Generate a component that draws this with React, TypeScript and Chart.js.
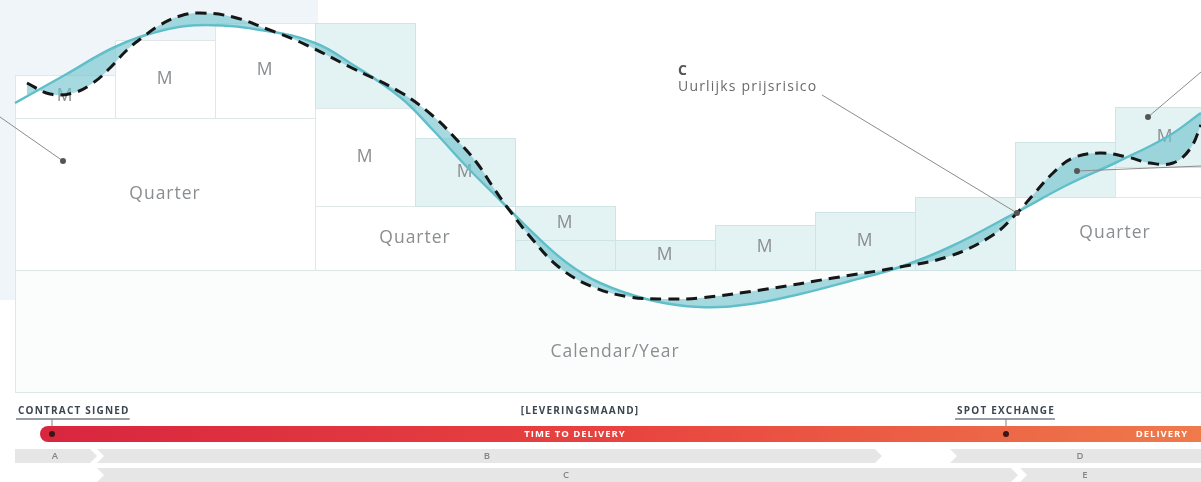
import React, { useEffect, useRef } from 'react';
import { Chart, registerables } from 'chart.js';
Chart.register(...registerables);

const FONT = '"Open Sans", "Noto Sans", sans-serif';

// Forward (baseload) curve: month index vs price
const forwardMonths = [0, 0.5, 1.0, 1.45, 1.92, 2.52, 3.0, 3.35, 3.85, 4.18, 4.52, 4.85, 5.18, 5.52, 5.85, 6.35, 6.85, 7.35, 7.85, 8.35, 8.85, 9.35, 10.02, 10.52, 11.02, 11.52, 11.86];
const forwardPrice = [72.25, 79.25, 86.25, 90.25, 91.75, 90.25, 87.25, 82.25, 73.75, 65.5, 56.25, 48, 39.75, 32.25, 27.25, 23, 21.25, 22, 24.5, 27.75, 31.25, 36.25, 45, 51.75, 57.5, 63.75, 69.75];

// Hourly spot price curve
const spotMonths = [0.12, 0.35, 0.58, 0.78, 0.95, 1.12, 1.28, 1.45, 1.65, 1.85, 2.18, 2.52, 2.85, 3.35, 3.85, 4.18, 4.42, 4.62, 4.78, 4.92, 5.18, 5.45, 5.78, 6.15, 6.52, 6.85, 7.52, 8.18, 8.85, 9.35, 9.78, 10.02, 10.18, 10.38, 10.58, 10.85, 11.12, 11.35, 11.58, 11.75, 11.86];
const spotPrice = [77.25, 74.5, 74.75, 77.25, 81, 85.5, 88.75, 91.75, 94, 94.75, 93.75, 90.75, 87.5, 81.25, 75, 69, 63, 57.25, 51.25, 46.25, 38, 31, 26.25, 23.75, 23.25, 23.5, 25.75, 28.5, 31.25, 34, 39.25, 44.75, 49.25, 54.75, 58.5, 59.75, 58.75, 57.25, 57.25, 60.75, 66.75];

// Product blocks (year / quarter / month)
const blockStart = [0, 0, 3, 10, 0, 1, 2, 3, 3, 4, 5, 5, 6, 7, 8, 9, 10, 11, 11];
const blockEnd = [12, 3, 5, 12, 1, 2, 3, 4, 4, 5, 6, 6, 7, 8, 9, 10, 11, 12, 12];
const blockLow = [0, 30.5, 30.5, 30.5, 68.5, 68.5, 68.5, 71, 46.5, 46.5, 38, 30.5, 30.5, 30.5, 30.5, 30.5, 48.75, 48.75, 56.25];
const blockHigh = [30.5, 68.5, 46.5, 48.75, 79.25, 88, 92.25, 92.25, 71, 63.5, 46.5, 38, 38, 41.75, 45, 48.75, 62.5, 56.25, 71.25];
const blockKind = ['year', 'plain', 'plain', 'plain', 'plain', 'plain', 'plain', 'tint', 'plain', 'tint', 'tint', 'tint', 'tint', 'tint', 'tint', 'tint', 'tint', 'plain', 'tint'];
const blockLabel = ['Calendar/Year', 'Quarter', 'Quarter', 'Quarter', 'M', 'M', 'M', '', 'M', 'M', 'M', '', 'M', 'M', 'M', '', '', '', 'M'];

// Background panel (upper left)
const panelStart = -0.15;
const panelEnd = 3.03;
const panelLow = 23;

// Callouts
const calloutTitle = 'C';
const calloutText = 'Uurlijks prijsrisico';
const calloutAt = [6.63, 81.25];
const leaderFrom = [[-0.15, 68.75], [8.07, 74.25], [11.86, 80], [11.86, 56.5]];
const leaderTo = [[0.48, 57.75], [10.02, 44.75], [11.33, 68.75], [10.62, 55.25]];

// Timeline
const barStart = 0.25;
const contractSignedAt = 0.37;
const spotExchangeAt = 9.91;
const deliveryMonthAt = 5.65;
const timeToDeliveryAt = 5.6;
const deliveryAt = 11.47;
const phaseLabels = ['A', 'B', 'D', 'C', 'E'];
const phaseRow = [0, 0, 0, 1, 1];
const phaseStart = [0, 0.82, 9.35, 0.82, 10.05];
const phaseEnd = [0.82, 8.67, 12.2, 10.03, 12.2];
const phaseLabelAt = [0.4, 4.72, 10.65, 5.51, 10.7];

const blockPlugin = {
  id: 'blocks',
  beforeDatasetsDraw(chart: any) {
    const ctx = chart.ctx;
    const xs = chart.scales.x, ys = chart.scales.y;
    const X = (m: number) => xs.getPixelForValue(m);
    const Y = (v: number) => ys.getPixelForValue(v);
    ctx.save();
    ctx.fillStyle = '#eff5f8';
    ctx.fillRect(X(panelStart), 0, X(panelEnd) - X(panelStart), Y(panelLow));
    for (let i = 0; i < blockStart.length; i++) {
      const x0 = Math.round(X(blockStart[i])) + 0.5;
      const x1 = Math.round(X(blockEnd[i])) + 0.5;
      const y0 = Math.round(Y(blockHigh[i])) + 0.5;
      const y1 = Math.round(Y(blockLow[i])) + 0.5;
      const k = blockKind[i];
      ctx.fillStyle = k === 'tint' ? '#e3f2f2' : k === 'year' ? '#fbfdfd' : '#ffffff';
      ctx.strokeStyle = k === 'tint' ? '#cfe4e5' : '#e0e7e9';
      ctx.lineWidth = 1;
      ctx.fillRect(x0, y0, x1 - x0, y1 - y0);
      ctx.strokeRect(x0, y0, x1 - x0, y1 - y0);
    }
    ctx.fillStyle = '#8a8e91';
    ctx.textAlign = 'center';
    ctx.textBaseline = 'middle';
    ctx.font = `17.5px ${FONT}`;
    (ctx as any).letterSpacing = '1px';
    for (let i = 0; i < blockStart.length; i++) {
      if (!blockLabel[i]) continue;
      const x0 = X(blockStart[i]);
      const x1 = X(blockEnd[i]);
      const y0 = Y(blockHigh[i]);
      const y1 = Y(blockLow[i]);
      const frac = blockKind[i] === 'year' ? 0.67 : 0.5;
      ctx.fillText(blockLabel[i], (x0 + x1) / 2, y0 + (y1 - y0) * frac);
    }
    ctx.restore();
  },
  afterDatasetsDraw(chart: any) {
    const ctx = chart.ctx;
    const xs = chart.scales.x, ys = chart.scales.y;
    const X = (m: number) => xs.getPixelForValue(m);
    const Y = (v: number) => ys.getPixelForValue(v);
    ctx.save();
    ctx.strokeStyle = '#8c8c8c';
    ctx.lineWidth = 1;
    for (let i = 0; i < leaderFrom.length; i++) {
      ctx.beginPath();
      ctx.moveTo(X(leaderFrom[i][0]), Y(leaderFrom[i][1]));
      ctx.lineTo(X(leaderTo[i][0]), Y(leaderTo[i][1]));
      ctx.stroke();
      ctx.fillStyle = '#555';
      ctx.beginPath();
      ctx.arc(X(leaderTo[i][0]), Y(leaderTo[i][1]), 3, 0, Math.PI * 2);
      ctx.fill();
    }
    ctx.textAlign = 'left';
    ctx.textBaseline = 'alphabetic';
    (ctx as any).letterSpacing = '1.2px';
    ctx.fillStyle = '#555';
    ctx.font = `bold 14px ${FONT}`;
    ctx.fillText(calloutTitle, X(calloutAt[0]), Y(calloutAt[1]) + 8);
    ctx.fillStyle = '#6a6a6a';
    ctx.font = `14px ${FONT}`;
    ctx.fillText(calloutText, X(calloutAt[0]), Y(calloutAt[1]) + 24);
    ctx.restore();
  },
  afterDraw(chart: any) {
    const ctx = chart.ctx;
    const xs = chart.scales.x;
    const X = (m: number) => xs.getPixelForValue(m);
    const base = chart.chartArea.bottom;
    const W = chart.width;
    ctx.save();
    ctx.font = `bold 10px ${FONT}`;
    (ctx as any).letterSpacing = '1.2px';
    ctx.fillStyle = '#3c4650';
    ctx.textBaseline = 'alphabetic';
    ctx.textAlign = 'left';
    const cs = 'CONTRACT SIGNED';
    const csx = X(contractSignedAt) - 34;
    ctx.fillText(cs, csx, base + 22);
    const csw = ctx.measureText(cs).width;
    const se = 'SPOT EXCHANGE';
    const sew = ctx.measureText(se).width;
    const sex = X(spotExchangeAt) - sew / 2;
    ctx.fillText(se, sex, base + 22);
    ctx.textAlign = 'center';
    ctx.fillText('[LEVERINGSMAAND]', X(deliveryMonthAt), base + 22);
    ctx.strokeStyle = '#7a8088';
    ctx.lineWidth = 1.5;
    ctx.beginPath();
    ctx.moveTo(csx - 2, base + 27); ctx.lineTo(csx + csw, base + 27);
    ctx.moveTo(sex - 2, base + 27); ctx.lineTo(sex + sew, base + 27);
    ctx.stroke();
    ctx.lineWidth = 1;
    ctx.beginPath();
    ctx.moveTo(X(contractSignedAt), base + 27); ctx.lineTo(X(contractSignedAt), base + 42);
    ctx.moveTo(X(spotExchangeAt), base + 27); ctx.lineTo(X(spotExchangeAt), base + 42);
    ctx.stroke();
    const bx = X(barStart), by = base + 34, bh = 16;
    const g = ctx.createLinearGradient(bx, 0, W, 0);
    g.addColorStop(0, '#d8263f');
    g.addColorStop(0.5, '#e8433f');
    g.addColorStop(1, '#ef7a4b');
    ctx.fillStyle = g;
    ctx.beginPath();
    ctx.moveTo(bx + bh / 2, by);
    ctx.lineTo(W, by);
    ctx.lineTo(W, by + bh);
    ctx.lineTo(bx + bh / 2, by + bh);
    ctx.arc(bx + bh / 2, by + bh / 2, bh / 2, Math.PI / 2, Math.PI * 1.5);
    ctx.closePath();
    ctx.fill();
    ctx.fillStyle = '#3a1616';
    ctx.beginPath();
    ctx.arc(X(contractSignedAt), by + bh / 2, 3, 0, Math.PI * 2);
    ctx.fill();
    ctx.beginPath();
    ctx.arc(X(spotExchangeAt), by + bh / 2, 3, 0, Math.PI * 2);
    ctx.fill();
    ctx.fillStyle = '#ffffff';
    ctx.font = `bold 9.5px ${FONT}`;
    (ctx as any).letterSpacing = '1px';
    ctx.textBaseline = 'middle';
    ctx.textAlign = 'center';
    ctx.fillText('TIME TO DELIVERY', X(timeToDeliveryAt), by + bh / 2 + 0.5);
    ctx.fillText('DELIVERY', X(deliveryAt), by + bh / 2 + 0.5);
    const rowH = 14, tip = 7;
    ctx.font = `600 9.5px ${FONT}`;
    (ctx as any).letterSpacing = '0px';
    for (let i = 0; i < phaseLabels.length; i++) {
      const ry = base + 57 + phaseRow[i] * 19;
      const x0 = X(phaseStart[i]);
      const x1 = X(phaseEnd[i]);
      const first = phaseStart[i] <= 0;
      ctx.fillStyle = '#e6e6e6';
      ctx.beginPath();
      ctx.moveTo(x0, ry);
      ctx.lineTo(x1 - tip, ry);
      ctx.lineTo(x1, ry + rowH / 2);
      ctx.lineTo(x1 - tip, ry + rowH);
      ctx.lineTo(x0, ry + rowH);
      if (!first) ctx.lineTo(x0 + tip, ry + rowH / 2);
      ctx.closePath();
      ctx.fill();
      ctx.fillStyle = '#858585';
      ctx.fillText(phaseLabels[i], X(phaseLabelAt[i]), ry + rowH / 2 + 0.5);
    }
    ctx.restore();
  },
};

export default function App() {
  const ref = useRef<HTMLCanvasElement>(null);
  useEffect(() => {
    if (!ref.current) return;
    const chart = new Chart(ref.current, {
      type: 'line',
      data: {
        datasets: [
          {
            label: 'Forward',
            data: forwardMonths.map((m, i) => ({ x: m, y: forwardPrice[i] })),
            borderColor: '#5bbdc8',
            borderWidth: 2.5,
            tension: 0.4,
            pointRadius: 0,
            fill: false,
            order: 1,
          },
          {
            label: 'Spot',
            data: spotMonths.map((m, i) => ({ x: m, y: spotPrice[i] })),
            borderColor: '#161616',
            borderWidth: 3,
            borderDash: [11, 7],
            tension: 0.4,
            pointRadius: 0,
            fill: { target: 0, above: 'rgba(112,196,205,0.62)', below: 'rgba(112,196,205,0.62)' },
            order: 0,
          },
        ],
      },
      options: {
        responsive: false,
        animation: false,
        devicePixelRatio: 1,
        layout: { padding: { left: 0, right: 0, top: 0, bottom: 90 } },
        scales: {
          x: { type: 'linear', min: -0.15, max: 11.86, display: false },
          y: { type: 'linear', min: 0, max: 98, display: false },
        },
        plugins: { legend: { display: false }, tooltip: { enabled: false } },
      },
      plugins: [blockPlugin],
    } as any);
    return () => chart.destroy();
  }, []);
  return (
    <div style={{ position: 'fixed', left: 0, top: 0, width: 1201, height: 482, background: '#ffffff' }}>
      <canvas ref={ref} width={1201} height={482} style={{ display: 'block' }} />
    </div>
  );
}
